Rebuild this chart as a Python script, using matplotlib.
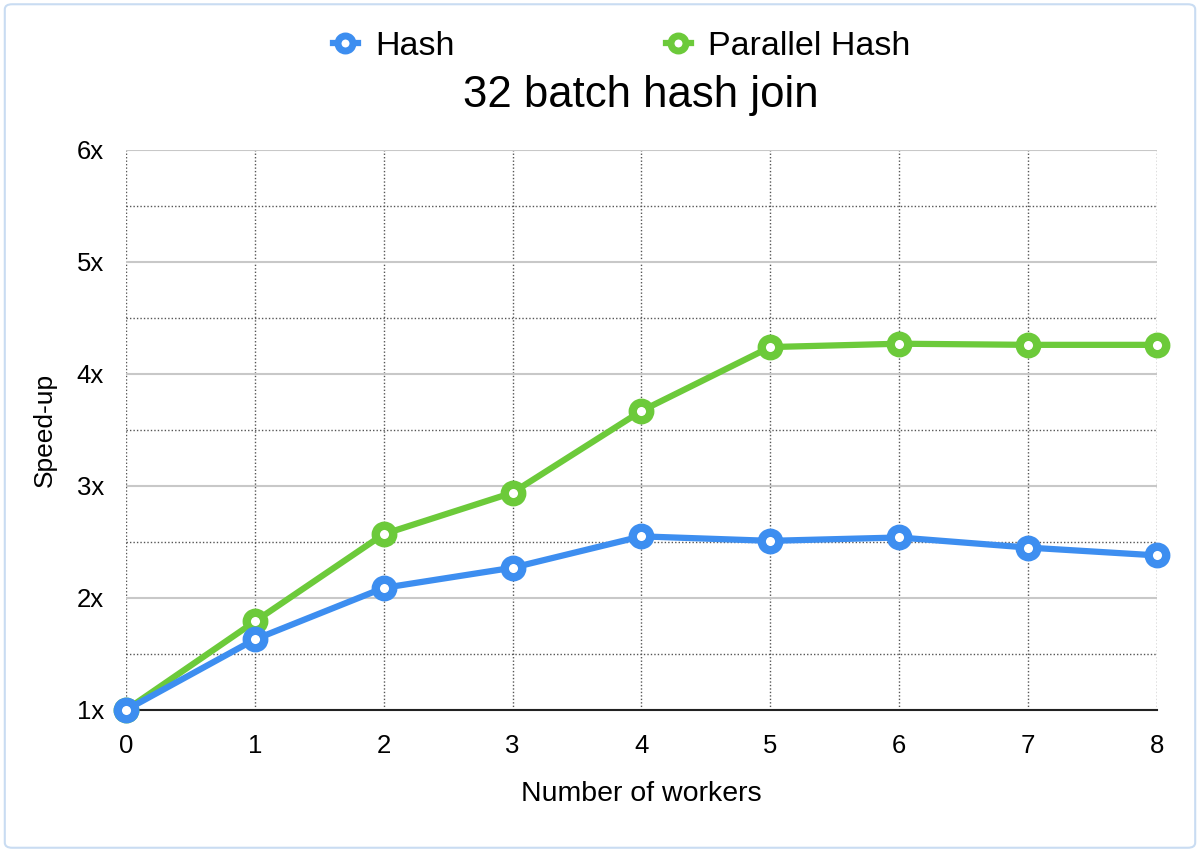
import matplotlib
matplotlib.use("Agg")
import matplotlib.pyplot as plt
from matplotlib.patches import FancyBboxPatch
from matplotlib.ticker import MultipleLocator, FuncFormatter

plt.rcParams["font.family"] = ["Liberation Sans", "DejaVu Sans"]

workers = [0, 1, 2, 3, 4, 5, 6, 7, 8]
hash_speedup = [1.0, 1.63, 2.09, 2.27, 2.55, 2.51, 2.54, 2.45, 2.38]
parallel_hash_speedup = [1.0, 1.79, 2.57, 2.94, 3.67, 4.24, 4.27, 4.26, 4.26]

blue = "#3d8ef0"
green = "#6cca3a"

fig = plt.figure(figsize=(12, 8.52), dpi=100)
ax = fig.add_axes([0.105, 0.1667, 0.859, 0.6573])

# outer rounded border
border = FancyBboxPatch((0.004, 0.005), 0.992, 0.99, boxstyle="round,pad=0,rounding_size=0.006",
                        transform=fig.transFigure, fill=False, edgecolor="#c9dcf2", linewidth=1.5)
fig.patches.append(border)

for ys, c, lab in [(hash_speedup, blue, "Hash"), (parallel_hash_speedup, green, "Parallel Hash")]:
    ax.plot(workers, ys, color=c, lw=4.5, marker="o", ms=12.6, mfc="white", mec=c, mew=6,
            label=lab, zorder=3, clip_on=False)
# blue drawn over green at the start
ax.lines[0].set_zorder(4)

ax.set_xlim(0, 8)
ax.set_ylim(1, 6)
ax.xaxis.set_major_locator(MultipleLocator(1))
ax.yaxis.set_major_locator(MultipleLocator(1))
ax.yaxis.set_minor_locator(MultipleLocator(0.5))
ax.yaxis.set_major_formatter(FuncFormatter(lambda v, p: f"{v:g}x"))

ax.grid(which="major", axis="y", color="#c8c8c8", lw=1.5, ls="-")
ax.grid(which="minor", axis="y", color="#555555", lw=1, ls=(0, (1, 1.5)))
ax.grid(which="major", axis="x", color="#555555", lw=1, ls=(0, (1, 1.5)))
ax.set_axisbelow(True)

for s in ["top", "right", "left"]:
    ax.spines[s].set_visible(False)
ax.spines["bottom"].set_color("#222222")
ax.spines["bottom"].set_linewidth(1.5)
ax.tick_params(which="both", length=0, labelsize=18.5)
ax.tick_params(axis="x", pad=17)
ax.tick_params(axis="y", pad=16)

ax.set_xlabel("Number of workers", fontsize=20.5, labelpad=17)
ax.set_ylabel("Speed-up", fontsize=19, labelpad=14)

fig.text(0.534, 0.888, "32 batch hash join", ha="center", va="center", fontsize=31.5)
fig.legend(loc="center", bbox_to_anchor=(0.518, 0.946), ncol=2, frameon=False, fontsize=24.5,
           handlelength=0.75, columnspacing=6.2, handletextpad=0.5)
for h in fig.legends[0].legend_handles:
    h.set_markersize(10.8)
    h.set_markeredgewidth(5)

fig.savefig("out.png", dpi=100, facecolor="white")
